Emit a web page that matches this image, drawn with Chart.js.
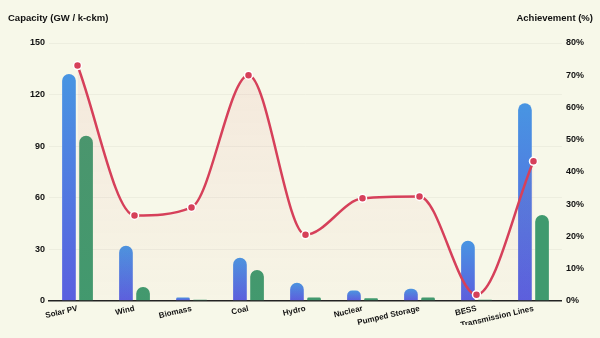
<!DOCTYPE html>
<html>
<head>
<meta charset="utf-8">
<script src="https://cdn.jsdelivr.net/npm/chart.js@4.4.0/dist/chart.umd.min.js"></script>
<style>
  html, body { margin: 0; padding: 0; background: #f7f8e9; }
  #wrap { position: relative; width: 600px; height: 338px; font-family: "Liberation Sans", Arial, sans-serif; }
  .axis-title { position: absolute; top: 12px; font-size: 9.5px; font-weight: bold; color: #111; }
  #lt { left: 8px; }
  #rt { right: 7px; }
</style>
</head>
<body>
<div id="wrap">
  <canvas id="c" width="600" height="338"></canvas>
  <div class="axis-title" id="lt">Capacity (GW / k-ckm)</div>
  <div class="axis-title" id="rt">Achievement (%)</div>
</div>
<script>
    'use strict';

    var categories = ['Solar PV', 'Wind', 'Biomass', 'Coal', 'Hydro', 'Nuclear', 'Pumped Storage', 'BESS', 'Transmission Lines'];
    var targetValues = [132, 32, 2, 25, 10.5, 6, 7, 35, 115];
    var achievedValues = [96, 8, 0.6, 18, 2, 1.5, 2, 0.6, 50];
    var achievementPct = [73, 26.5, 29, 70, 20.5, 31.8, 32.4, 1.9, 43.3];
    var leftTicks = [0, 30, 60, 90, 120, 150];
    var rightTicks = [0, 10, 20, 30, 40, 50, 60, 70, 80];

    var ctx = document.getElementById('c').getContext('2d');

    // each blue bar gets its own top-to-bottom gradient
    var barGradients = {
        id: 'barGradients',
        beforeDatasetsDraw: function(chart) {
            var meta = chart.getDatasetMeta(1);
            meta.data.forEach(function(el) {
                var top = Math.min(el.y, el.base), bottom = Math.max(el.y, el.base);
                if (bottom - top < 1) {
                    return;
                }
                var g = chart.ctx.createLinearGradient(0, top, 0, bottom);
                g.addColorStop(0, '#4895e2');
                g.addColorStop(1, '#5a5fdf');
                el.options.backgroundColor = g;
            });
        }
    };

    function pinkFill(context) {
        var area = context.chart.chartArea;
        if (!area) {
            return 'rgba(220,64,90,0.06)';
        }
        var g = context.chart.ctx.createLinearGradient(0, area.top, 0, area.bottom);
        g.addColorStop(0, 'rgba(225,90,100,0.10)');
        g.addColorStop(1, 'rgba(225,90,100,0.02)');
        return g;
    }

    new Chart(ctx, {
        data: {
            labels: categories,
            datasets: [{
                type: 'line',
                data: achievementPct,
                yAxisID: 'y1',
                borderColor: '#d6405a',
                borderWidth: 2.5,
                cubicInterpolationMode: 'monotone',
                fill: 'origin',
                backgroundColor: pinkFill,
                pointRadius: 4,
                pointBackgroundColor: '#d6405a',
                pointBorderColor: '#ffffff',
                pointBorderWidth: 1.5,
                order: 0
            }, {
                type: 'bar',
                data: targetValues,
                yAxisID: 'y',
                backgroundColor: function() { return '#4a8fe0'; },
                borderRadius: 7,
                borderSkipped: 'bottom',
                categoryPercentage: 0.6,
                barPercentage: 0.8,
                order: 1
            }, {
                type: 'bar',
                data: achievedValues,
                yAxisID: 'y',
                backgroundColor: '#3f9a6e',
                borderRadius: 7,
                borderSkipped: 'bottom',
                categoryPercentage: 0.6,
                barPercentage: 0.8,
                order: 1
            }]
        },
        options: {
            responsive: false,
            animation: false,
            layout: { padding: { top: 43, left: 26, right: 12, bottom: 13 } },
            plugins: {
                legend: { display: false },
                tooltip: { enabled: false }
            },
            scales: {
                x: {
                    grid: { display: false },
                    border: { color: '#222', width: 1.5 },
                    ticks: {
                        color: '#111',
                        font: { size: 8, weight: 'bold', family: 'Liberation Sans' },
                        autoSkip: false,
                        maxRotation: 13,
                        minRotation: 13,
                        padding: -5
                    }
                },
                y: {
                    position: 'left',
                    min: 0,
                    max: 150,
                    afterBuildTicks: function(axis) {
                        axis.ticks = leftTicks.map(function(v) { return { value: v }; });
                    },
                    grid: { color: 'rgba(0,0,0,0.04)', drawTicks: false },
                    border: { display: false },
                    ticks: {
                        color: '#111',
                        padding: 4,
                        font: { size: 9, weight: 'bold', family: 'Liberation Sans' }
                    }
                },
                y1: {
                    position: 'right',
                    min: 0,
                    max: 80,
                    afterBuildTicks: function(axis) {
                        axis.ticks = rightTicks.map(function(v) { return { value: v }; });
                    },
                    grid: { display: false, drawTicks: false },
                    border: { display: false },
                    ticks: {
                        color: '#111',
                        padding: 4,
                        font: { size: 9, weight: 'bold', family: 'Liberation Sans' },
                        callback: function(v) { return v + '%'; }
                    }
                }
            }
        },
        plugins: [barGradients]
    });
</script>
</body>
</html>
